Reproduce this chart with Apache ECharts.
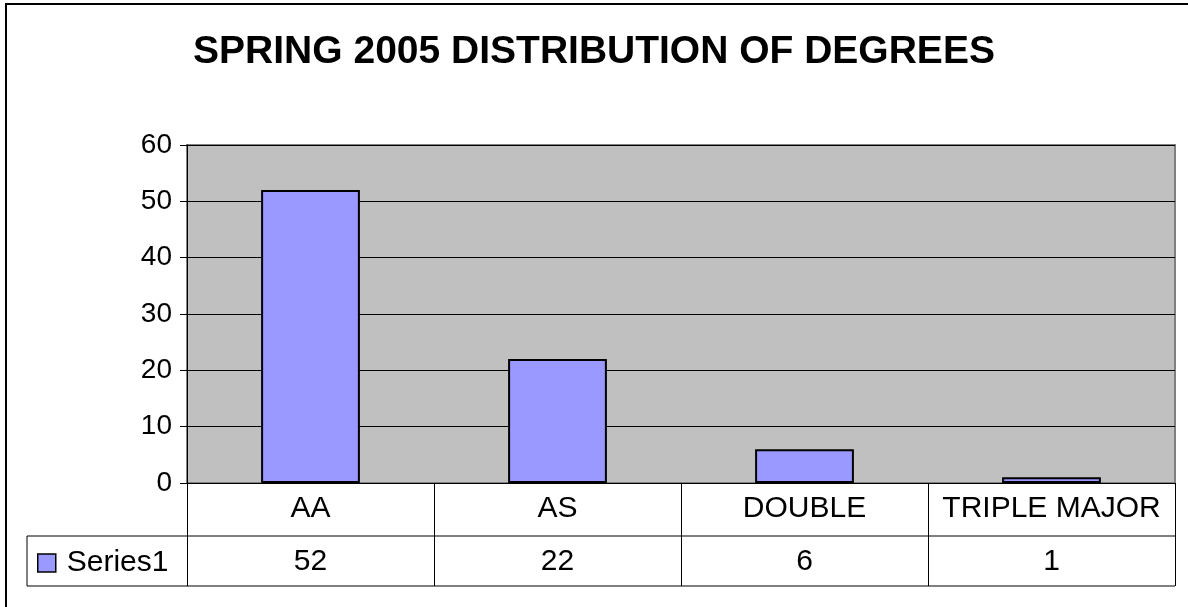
<!DOCTYPE html>
<html>
<head>
<meta charset="utf-8">
<script src="https://cdn.jsdelivr.net/npm/echarts@6/dist/echarts.min.js"></script>
<style>
  html, body { margin: 0; padding: 0; background: #fff; }
  #chart { width: 1188px; height: 607px; }
</style>
</head>
<body>
<div id="chart"></div>
<script>
// Degree counts for Spring 2005
const categories = ['AA', 'AS', 'DOUBLE', 'TRIPLE MAJOR'];
const series1 = [52, 22, 6, 1];
const seriesName = 'Series1';
const yTicks = { min: 0, max: 60, interval: 10 };

const FONT = '"Liberation Sans", Arial, sans-serif';
const LABEL_SIZE = 30;
const chart = echarts.init(document.getElementById('chart'));

const option = {
  animation: false,
  textStyle: { fontFamily: FONT, color: '#000' },
  title: {
    text: 'SPRING 2005 DISTRIBUTION OF DEGREES',
    left: 'center',
    top: 28,
    textStyle: { fontFamily: FONT, fontSize: 39, fontWeight: 'bold', color: '#000' }
  },
  legend: {
    data: [seriesName],
    left: 32,
    top: 543,
    icon: 'rect',
    itemWidth: 18,
    itemHeight: 18,
    itemGap: 0,
    textStyle: { fontFamily: FONT, fontSize: LABEL_SIZE, color: '#000', padding: [0, 0, 0, 6] },
    itemStyle: { borderColor: '#000', borderWidth: 1.5 }
  },
  grid: {
    left: 187, top: 145, right: 13, bottom: 124,
    show: true,
    backgroundColor: '#c0c0c0',
    borderColor: '#808080',
    borderWidth: 2
  },
  xAxis: [
    {
      type: 'category',
      data: categories,
      position: 'bottom',
      axisLine: { show: true, lineStyle: { color: '#000', width: 1 } },
      axisTick: { show: true, interval: 0, length: 103, lineStyle: { color: '#000', width: 1 } },
      axisLabel: { interval: 0, hideOverlap: false, fontFamily: FONT, fontSize: LABEL_SIZE, color: '#000', margin: 11 }
    },
    {
      type: 'category',
      data: categories,
      position: 'bottom',
      offset: 53,
      axisLine: { show: false },
      axisTick: { show: false },
      axisLabel: {
        interval: 0, hideOverlap: false,
        fontFamily: FONT, fontSize: LABEL_SIZE, color: '#000', margin: 11,
        formatter: (v, i) => String(series1[i])
      }
    }
  ],
  yAxis: {
    type: 'value',
    min: yTicks.min,
    max: yTicks.max,
    interval: yTicks.interval,
    axisLine: { show: true, lineStyle: { color: '#000', width: 1 } },
    axisTick: { show: true, length: 7, lineStyle: { color: '#000' } },
    axisLabel: { fontFamily: FONT, fontSize: LABEL_SIZE - 2, color: '#000', margin: 15 },
    splitLine: { show: true, lineStyle: { color: '#000', width: 1 } }
  },
  series: [{
    name: seriesName,
    type: 'bar',
    xAxisIndex: 0,
    data: series1,
    barWidth: '40%',
    itemStyle: { color: '#9999ff', borderColor: '#000', borderWidth: 2 }
  }]
};
chart.setOption(option);

// Data table rules, positioned from the grid's own coordinate system
function drawTable() {
  const rect = chart.getModel().getComponent('grid', 0).coordinateSystem.getRect();
  const x1 = rect.x + rect.width, yBase = rect.y + rect.height;
  const rowH = 53;
  const tableLeft = 27;
  const line = (ax, ay, bx, by) => ({
    type: 'line', silent: true,
    shape: { x1: ax, y1: ay, x2: bx, y2: by },
    style: { stroke: '#000', lineWidth: 1 }
  });
  chart.setOption({
    graphic: [
      line(tableLeft, yBase + rowH, x1, yBase + rowH),
      line(tableLeft, yBase + 2 * rowH - 3, x1, yBase + 2 * rowH - 3),
      line(tableLeft, yBase + rowH, tableLeft, yBase + 2 * rowH - 3),
      {
        type: 'rect', silent: true,
        shape: { x: 6, y: 4, width: 1300, height: 700 },
        style: { fill: null, stroke: '#000', lineWidth: 2 }
      }
    ]
  });
}
drawTable();
</script>
</body>
</html>
